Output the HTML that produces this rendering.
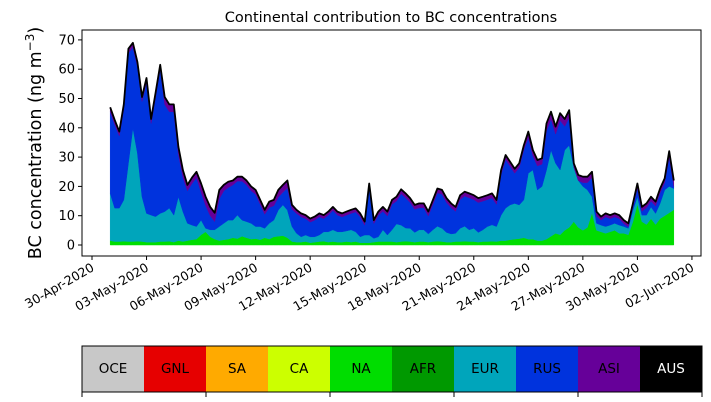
<!DOCTYPE html>
<html><head><meta charset="utf-8">
<style>
html,body{margin:0;padding:0;background:#fff;}
svg{display:block;font-family:"DejaVu Sans","Liberation Sans",sans-serif;}
</style></head>
<body>
<svg id="chart" width="711" height="402" viewBox="0 0 711 402"></svg>
<script>
// 6-hourly data starting 01-May-2020 00:00
const totalConc = [47,42.7,38.7,48,67,69,62.5,50.5,57,43,52,61.5,50.5,48,48,33.5,25.6,20.5,23,25,21,16.5,13,11,18.8,20.5,21.6,22,23.3,23.3,22,20,18.8,15.4,12,14.8,15.4,18.8,20.5,22,13.7,12,10.8,10.2,9,9.7,10.8,10.2,11.4,13,11.4,10.8,11.4,12,12.5,10.8,8,21,8.5,11.4,13,11.4,15.4,16.5,19,17.6,16,13.7,14.2,14.2,11.4,15.4,19.3,18.8,16,14.2,13,17,18.2,17.6,17,16,16.5,17,17.6,15.4,25.6,30.7,28.4,26,27.9,34,38.7,32.4,29,29.6,41.5,45.5,40.4,45,43,46,27.9,23.9,23.3,23.3,25,11.4,9.7,10.8,10.2,10.8,10.2,8.5,7.4,14.2,21,13,14.2,16.5,14.8,19.3,22.8,32,22];
const naVals = [1.5,1.2,1.2,1.3,1.2,1.2,1.3,1.2,1.0,1.0,1.0,1.2,1.2,1.3,1.0,1.5,1.2,1.5,1.8,2.0,3.5,4.5,2.8,2.0,1.5,1.8,2.0,2.5,2.2,3.0,2.5,2.0,2.2,1.8,2.5,2.0,2.8,3.0,3.2,2.5,1.2,1.0,1.0,1.2,0.8,1.0,1.2,1.3,1.0,1.2,1.0,1.0,1.2,1.0,1.2,0.8,0.8,0.8,1.0,1.2,1.2,1.2,1.2,1.0,1.2,1.3,1.2,1.0,1.2,1.2,1.0,1.2,1.3,1.2,1.0,1.0,1.2,1.2,1.3,1.2,1.2,1.0,1.2,1.2,1.3,1.2,1.5,1.5,1.8,2.0,2.2,2.5,2.0,2.0,1.5,1.5,2.0,3,4,3.5,5,6,8,6,5,6,11,5,4.5,4,4.5,5,4,4,3.5,8,14,8,7,9,7,9,10,11,12];
const eurVals = [16.1,11.4,11.4,14.1,26.7,38.7,30.1,15.3,9.8,9.2,8.7,9.6,10.2,11.3,9.2,15,10.2,5.9,5,4.3,5,1.2,2.4,3.2,4.8,5.6,6.5,6,8,5.5,5.5,5.4,4.1,4.5,3.2,5.4,5.7,8.9,10.5,9.4,5.1,3,1.8,2.2,2,1.8,2.2,3.2,3.5,4,3.5,3.5,3.6,4.2,3.3,2,2.6,2.6,1.3,1.6,4,2.2,4,6.2,5.6,4.5,4.5,3.3,4,4,2.8,4,5.1,4.5,3.3,2.8,2.8,4.5,5.1,4,4.5,3.3,4,5.1,5.6,5.1,8.7,11.1,11.9,12.2,11.5,12.9,22.5,23.6,17.3,18.5,23.6,29.4,23.9,22.1,27.4,28,18.6,16,15,12.8,5.5,2.4,2.3,2.3,2.3,2.4,2.8,2.3,2.2,3.9,2.5,2.2,3.2,4,3.8,5.2,8.8,9,7.3];
const asiVals = [1.5,1.5,1.5,1.5,1.5,1.5,1.5,1.5,1.5,1.5,1.5,1.5,2.5,2.5,2.5,2.5,2.5,2,2,2,3,3,3,3,3,2,2,1.5,1.5,1.5,1.5,1.5,1.5,1.5,1.5,2,2,2.5,2.5,2.5,1.5,1.2,1.2,1.2,1.2,1.2,1.2,1.2,1.2,1.2,1.2,1.2,1.2,1.2,1.2,1.2,1.2,1.2,1.2,1.2,1.5,1.5,1.5,1.5,1.5,1.5,1.5,1.5,1.5,1.5,1.5,1.5,1.5,1.5,1.5,1.5,1.5,1.5,1.5,1.5,1.5,1.5,1.5,1.5,1.5,1.5,1.5,1.5,1.5,1.5,1.5,1.5,2,2,2,2,2.5,2.5,2.5,2.5,2.5,2.5,2,2,2,2,2,1.5,1.2,1.2,1.2,1.2,1.2,1.2,1.2,1.2,1.5,1.5,1.5,1.5,1.5,1.5,1.5,2,2];
const yTicks = [0,10,20,30,40,50,60,70];
const xTickDays = [0,3,6,9,12,15,18,21,24,27,30,33];
const xTickLabels = ["30-Apr-2020","03-May-2020","06-May-2020","09-May-2020","12-May-2020","15-May-2020","18-May-2020","21-May-2020","24-May-2020","27-May-2020","30-May-2020","02-Jun-2020"];
const regions = ["OCE","GNL","SA","CA","NA","AFR","EUR","RUS","ASI","AUS"];
const regionColors = ["#c8c8c8","#e60000","#ffaa00","#ccff00","#00dd00","#009900","#00a5bb","#0033dd","#660099","#000000"];

const NS="http://www.w3.org/2000/svg";
const svg=document.getElementById('chart');
const L=82,R=701,T=30,B=256;
function xs(day){return 92+day*18.18;}
function ys(v){return 245-v*2.93;}
function mk(tag,attrs,parent){const e=document.createElementNS(NS,tag);for(const k in attrs)e.setAttribute(k,attrs[k]);(parent||svg).appendChild(e);return e;}

const n=totalConc.length;
const dayOf=i=>1+i*0.25;
const naTop=[],eurTop=[],rusTop=[],totTop=[];
for(let i=0;i<n;i++){naTop.push(naVals[i]);eurTop.push(naVals[i]+eurVals[i]);totTop.push(totalConc[i]);rusTop.push(Math.max(naVals[i]+eurVals[i],totalConc[i]-asiVals[i]));}
const zero=new Array(n).fill(0);
function band(lo,hi,color,name){
  let d='';
  for(let i=0;i<n;i++)d+=(i?'L':'M')+xs(dayOf(i)).toFixed(1)+','+ys(hi[i]).toFixed(1);
  for(let i=n-1;i>=0;i--)d+='L'+xs(dayOf(i)).toFixed(1)+','+ys(lo[i]).toFixed(1);
  const p=mk('path',{d:d+'Z',fill:color,stroke:color,'stroke-width':0.5});
  
  
}
band(zero,naTop,'#00dd00','area-na');
band(naTop,eurTop,'#00a5bb','area-eur');
band(eurTop,rusTop,'#0033dd','area-rus');
band(rusTop,totTop,'#660099','area-asi');
let ld='';
for(let i=0;i<n;i++)ld+=(i?'L':'M')+xs(dayOf(i)).toFixed(1)+','+ys(totTop[i]).toFixed(1);
const topLine=mk('path',{d:ld,fill:'none',stroke:'#000','stroke-width':1.8,'stroke-linejoin':'round'});



const frame=mk('rect',{x:L,y:T,width:R-L,height:B-T,fill:'none',stroke:'#000','stroke-width':1});



yTicks.forEach(v=>{
  const y=ys(v);
  const t=mk('line',{x1:L-4,x2:L,y1:y,y2:y,stroke:'#000'});
  
  
  const tx=mk('text',{x:L-7,y:y+4.5,'text-anchor':'end','font-size':13});
  tx.textContent=v;
  
  
});
xTickDays.forEach((d,i)=>{
  const x=xs(d);
  const t=mk('line',{x1:x,x2:x,y1:B,y2:B+4,stroke:'#000'});
  
  
  const tx=mk('text',{x:x+3,y:B+14,'text-anchor':'end','font-size':12.5,transform:'rotate(-30 '+(x+3)+' '+(B+14)+')'});
  tx.textContent=xTickLabels[i];
  
  
});
const title=mk('text',{x:391,y:22,'text-anchor':'middle','font-size':14.5});
title.textContent='Continental contribution to BC concentrations';


const yl=mk('text',{x:0,y:0,'text-anchor':'middle','font-size':17.5,transform:'translate(41,143) rotate(-90)'});
yl.innerHTML='BC concentration (ng m<tspan dy="-7" font-size="12">−3</tspan><tspan dy="7">)</tspan>';



const cw=(702-82)/regions.length;
regions.forEach((r,i)=>{
  const x=82+i*cw;
  const c=mk('rect',{x:x,y:346,width:cw+0.5,height:46,fill:regionColors[i]});
  
  
  const tx=mk('text',{x:x+cw/2,y:373,'text-anchor':'middle','font-size':13.5,fill:r==='AUS'?'#fff':'#000'});
  tx.textContent=r;
  
  
});
const lf=mk('rect',{x:82,y:346,width:620,height:46,fill:'none',stroke:'#000','stroke-width':1});


for(let i=0;i<=5;i++){
  const x=82+i*cw*2;
  const t=mk('line',{x1:x,x2:x,y1:392,y2:397,stroke:'#000'});
  
  
}
</script>
</body></html>
